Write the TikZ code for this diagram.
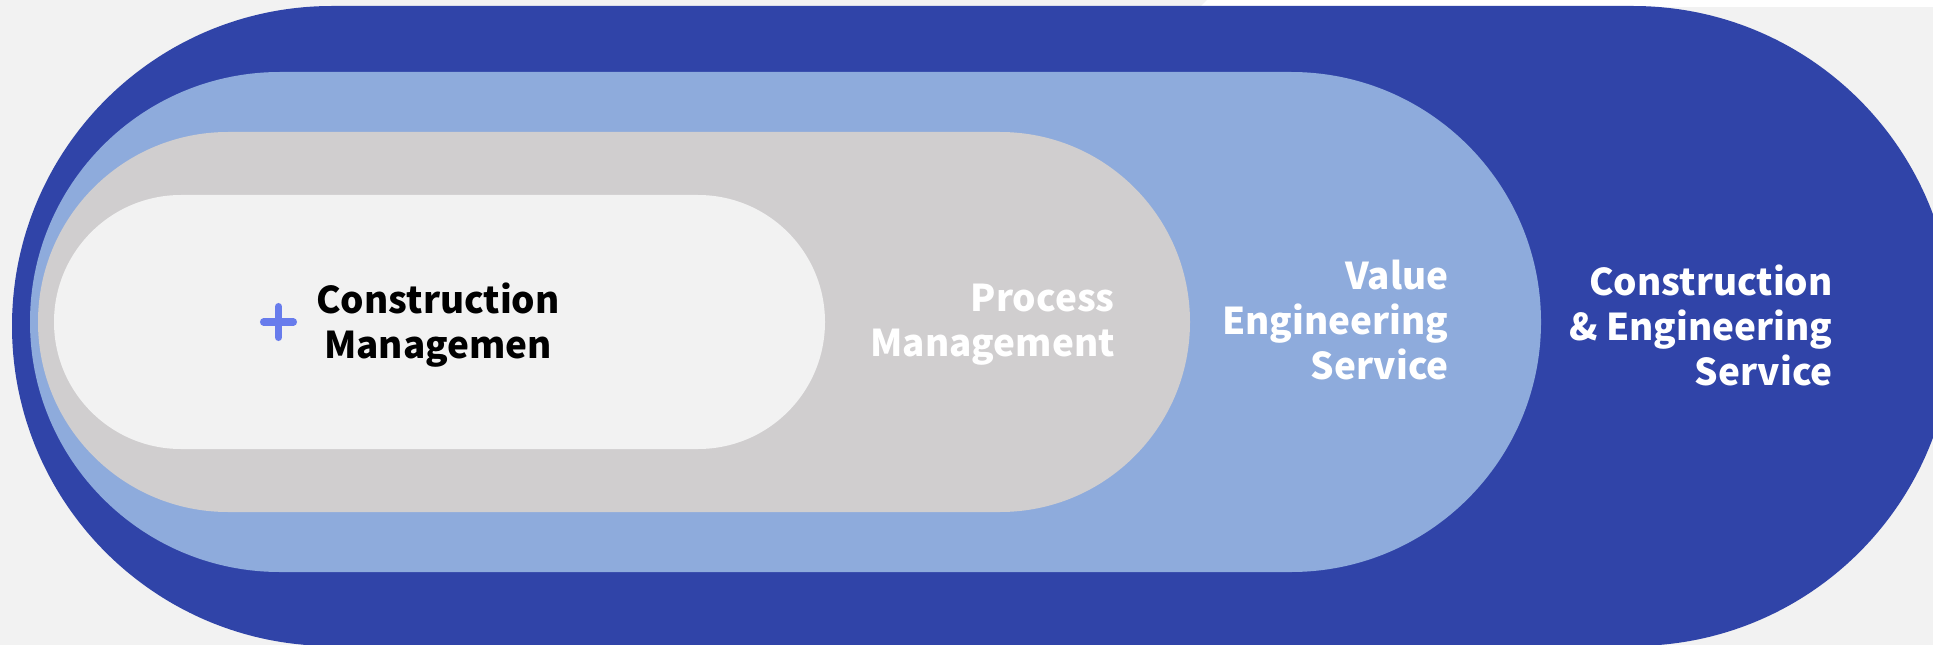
\documentclass[tikz,border=0pt]{standalone}
\usepackage{fontspec}
\newfontfamily\lblfont{Noto Sans CJK KR}
\usepackage{tikz}

\definecolor{navy}{RGB}{48,68,168}
\definecolor{skyblue}{RGB}{142,171,220}
\definecolor{ashgray}{RGB}{208,206,207}
\definecolor{paper}{RGB}{242,242,242}
\definecolor{plusblue}{RGB}{104,124,236}

\tikzstyle{ringtext} = [inner sep=0pt, font=\lblfont\bfseries\fontsize{21}{25.6}\selectfont, text=white, align=right, anchor=east]
\tikzstyle{coretext} = [ringtext, text=black, align=center, anchor=center]
\tikzstyle{plus} = [draw=plusblue, line width=4pt, line cap=round]

\begin{document}
\begin{tikzpicture}[x=0.02cm,y=-0.02cm]

\useasboundingbox (0,0) rectangle (1933,645);
\clip (0,0) rectangle (1933,645);
\fill [paper] (0,0) rectangle (1933,645);
\fill [white] (1207,0) -- (1933,0) -- (1933,7) -- (1200,7) -- cycle;
%
\fill [navy, rounded corners=6.4cm] (12,6) rectangle (1953,646);
\fill [skyblue, rounded corners=5cm] (30,72) rectangle (1541,572);
\fill [ashgray, rounded corners=3.8cm] (38,132) rectangle (1190,512);
\fill [paper, rounded corners=2.54cm] (54,195) rectangle (825,449);
%
\node (cm) [coretext] at (438,325) {Construction\\Managemen};
\node (pm) [ringtext] at (1115,325) {Process\\Management};
\node (ve) [ringtext] at (1449,320) {Value\\Engineering\\Service};
\node (ce) [ringtext] at (1833,325) {Construction\\\& Engineering\\Service};
%
\draw [plus] (263.5,322) -- (293.5,322);
\draw [plus] (278.5,306.5) -- (278.5,337.5);
\end{tikzpicture}
\end{document}
